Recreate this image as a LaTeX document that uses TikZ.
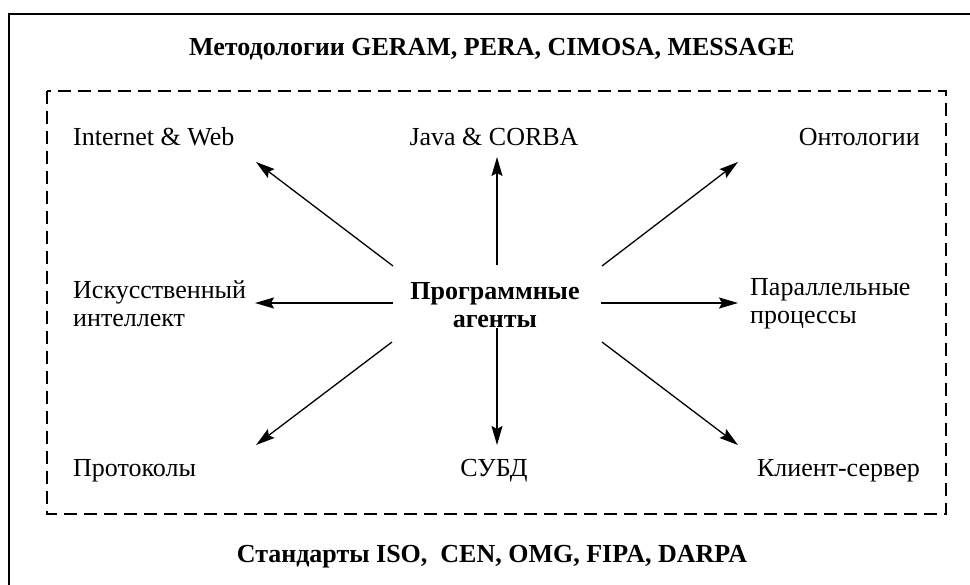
\documentclass[tikz,border=0pt]{standalone}
\usepackage{fontspec}
\setmainfont{Liberation Serif}
\usetikzlibrary{arrows.meta}
\begin{document}
\begin{tikzpicture}[x=1pt,y=-1pt,
  lbl/.style={inner sep=0pt,font=\fontsize{26}{28}\selectfont},
  bold/.style={lbl,font=\fontsize{26}{28}\selectfont\bfseries},
  arr/.style={line width=1.3pt,-{Stealth[length=19pt,width=11pt,inset=3pt]}},
  frame/.style={line width=1.6pt},
  dashframe/.style={line width=1.2pt,dash pattern=on 13pt off 7pt}]
\useasboundingbox (0,0) rectangle (970,585);
% outer frame (top and left edges)
\draw[frame] (970,14) -- (9,14) -- (9,585);
% dashed inner frame
\draw[dashframe] (47,91) rectangle (946,514);
% titles
\node[bold,anchor=base] (title) at (492,56) {Методологии GERAM, PERA, CIMOSA, MESSAGE};
\node[bold,anchor=base] (std) at (492,562) {Стандарты ISO,\ \ CEN, OMG, FIPA, DARPA};
% centre
\node[bold,align=center] (agents) at (495,305) {Программные\\агенты};
% outer labels
\node[lbl,anchor=base west] (web) at (73,146) {Internet \& Web};
\node[lbl,anchor=base] (java) at (494,146) {Java \& CORBA};
\node[lbl,anchor=base east] (onto) at (920,146) {Онтологии};
\node[lbl,anchor=west,align=left] (ai) at (73,304) {Искусственный\\интеллект};
\node[lbl,anchor=west,align=left] (par) at (750,304) {Параллельные\\процессы};
\node[lbl,anchor=base west] (prot) at (73,476) {Протоколы};
\node[lbl,anchor=base] (db) at (494,476) {СУБД};
\node[lbl,anchor=base east] (cs) at (920,476) {Клиент-сервер};
% arrow end points
\coordinate (s1) at (393,266); \coordinate (e1) at (256,162);
\coordinate (s2) at (497,265); \coordinate (e2) at (497,157);
\coordinate (s3) at (602,266); \coordinate (e3) at (738,162);
\coordinate (s4) at (393,303); \coordinate (e4) at (255,303);
\coordinate (s5) at (601,303); \coordinate (e5) at (738,303);
\coordinate (s6) at (392,342); \coordinate (e6) at (256,445);
\coordinate (s7) at (497,328); \coordinate (e7) at (497,445);
\coordinate (s8) at (602,342); \coordinate (e8) at (738,445);
\foreach \i in {1,...,8} \draw[arr] (s\i) -- (e\i);
\end{tikzpicture}
\end{document}
